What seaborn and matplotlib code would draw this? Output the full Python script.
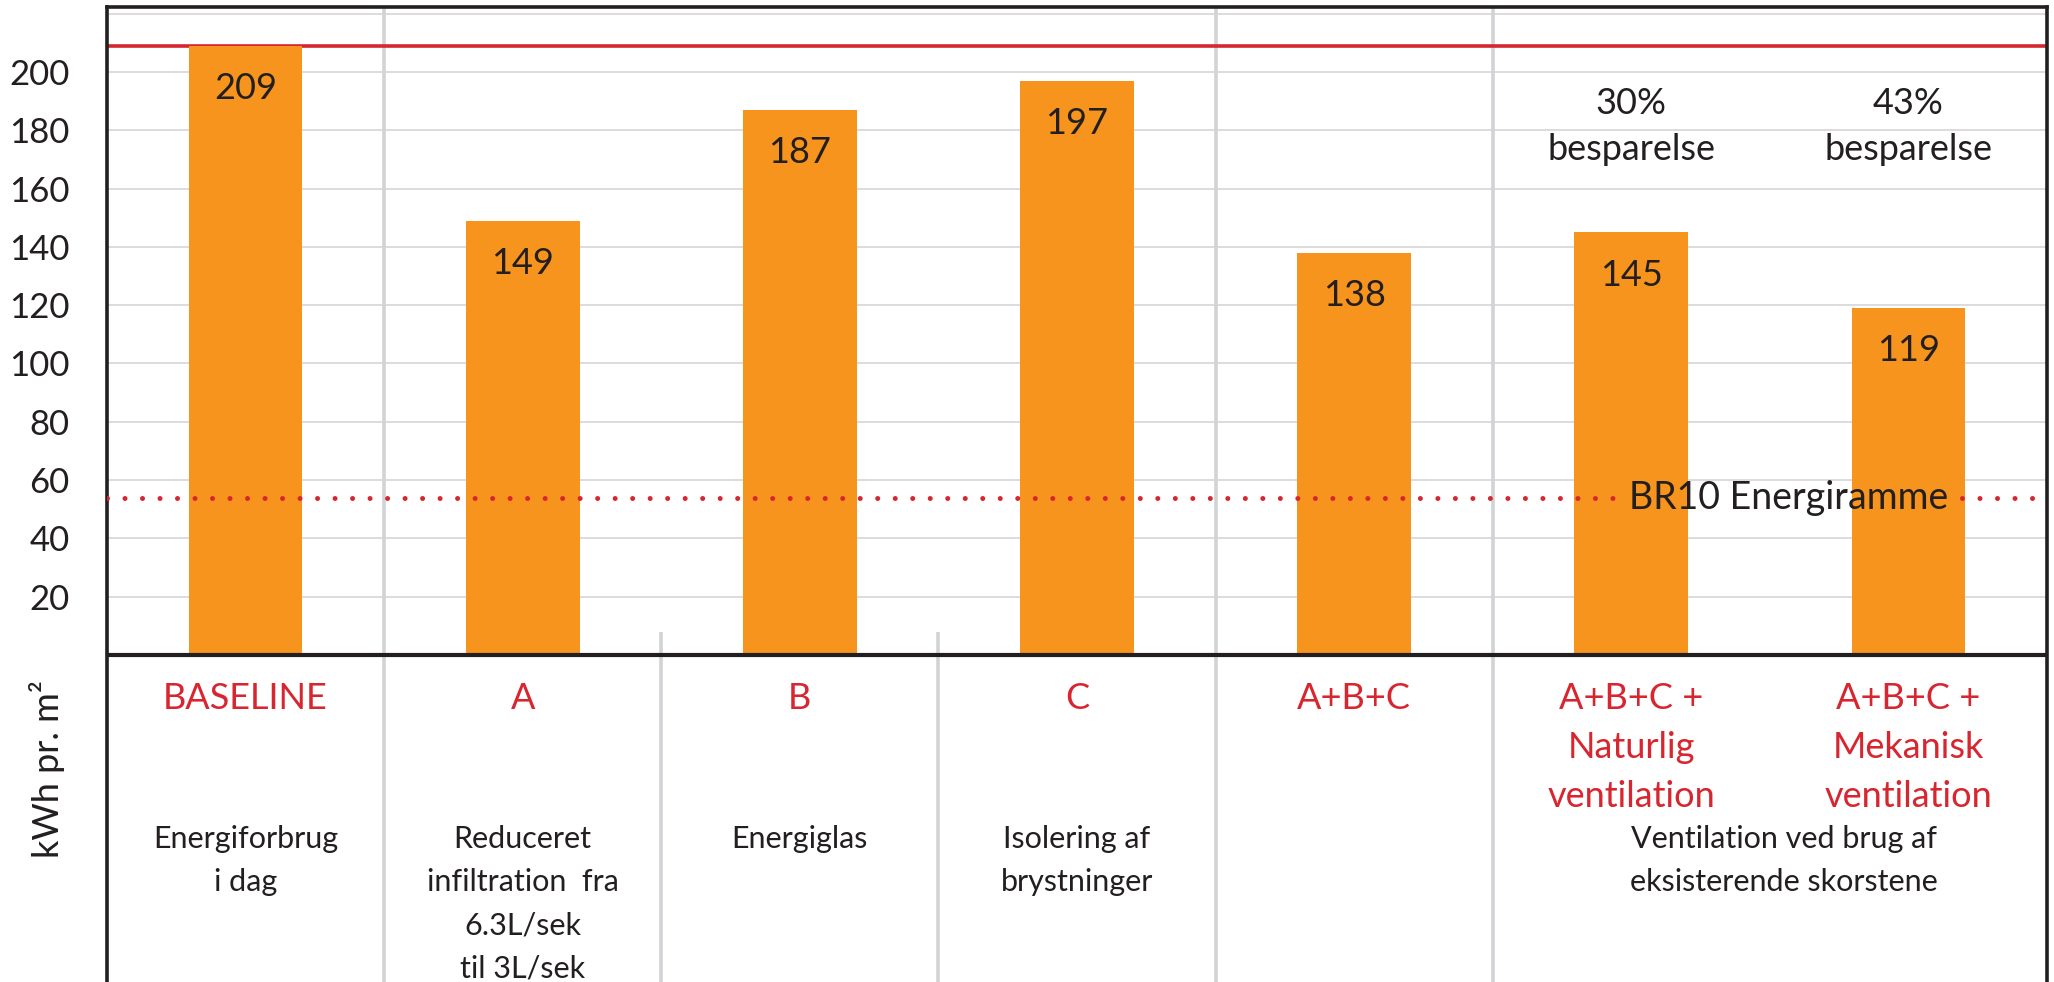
import matplotlib
matplotlib.use("Agg")
import matplotlib.pyplot as plt
import numpy as np
import pandas as pd
import seaborn as sns

# --- data -------------------------------------------------------------
codes = ["BASELINE", "A", "B", "C", "A+B+C",
         "A+B+C +\nNaturlig\nventilation",
         "A+B+C +\nMekanisk\nventilation"]
descriptions = ["Energiforbrug\ni dag",
                "Reduceret\ninfiltration  fra\n6.3L/sek\ntil 3L/sek",
                "Energiglas",
                "Isolering af\nbrystninger",
                "", "", ""]
shared_description = "Ventilation ved brug af\neksisterende skorstene"
values = [209, 149, 187, 197, 138, 145, 119]
savings = ["", "", "", "", "", "30%", "43%"]
savings_word = "besparelse"
baseline_level = 209
br10_level = 54
br10_label = "BR10 Energiramme"
y_ticks = [20, 40, 60, 80, 100, 120, 140, 160, 180, 200]
grid_levels = [20, 40, 60, 80, 100, 120, 140, 160, 180, 200, 220]
y_label = "kWh pr. m²"

# --- style --------------------------------------------------------------
ORANGE = "#F7941D"
RED = "#D7262F"
DARK = "#231F20"
GRID = "#D9D9D9"
DIVIDER = "#D1D3D4"

sns.set_style("white")
plt.rcParams["font.family"] = ["Lato", "DejaVu Sans"]

W, H = 2054, 982
fig = plt.figure(figsize=(W / 100, H / 100), dpi=100)
ax = fig.add_axes([107 / W, 0, 1940 / W, 975 / H])

df = pd.DataFrame({"code": codes, "value": values})
sns.barplot(data=df, x="code", y="value", color=ORANGE, saturation=1,
            width=0.41, linewidth=0, ax=ax, zorder=3)

n = len(codes)
YMIN, YMAX = -112.2, 222.3
ax.set_xlim(-0.5, n - 0.5)
ax.set_ylim(YMIN, YMAX)

# horizontal grid in the chart area
ax.hlines(grid_levels, -0.5, n - 0.5, colors=GRID, linewidth=1.3, zorder=1)

# column dividers: some span the whole height, some only the text table
for xd in [0.5, 3.5, 4.5]:
    ax.vlines(xd, YMIN, YMAX, colors=DIVIDER, linewidth=2.6, zorder=1.5)
for xd in [1.5, 2.5]:
    ax.vlines(xd, YMIN, 8, colors=DIVIDER, linewidth=2.6, zorder=1.5)

# baseline consumption reference
ax.axhline(baseline_level, color=RED, linewidth=2.6, zorder=2)

# zero line separating chart and table
ax.axhline(0, color=DARK, linewidth=3.0, zorder=4)

# value labels inside bars
for i, v in enumerate(values):
    ax.text(i, v - 18.3, f"{v}", ha="center", va="baseline",
            fontsize=26, color=DARK, zorder=5)

# savings annotations
for i, s in enumerate(savings):
    if s:
        ax.text(i, 195, f"{s}\n{savings_word}", ha="center", va="top",
                fontsize=26, color=DARK, linespacing=1.5, zorder=5)

# category codes and descriptions in the table below the axis
for i, (c, d) in enumerate(zip(codes, descriptions)):
    ax.text(i, -9.3, c, ha="center", va="top", fontsize=26, color=RED,
            linespacing=1.6, zorder=5)
    if d:
        ax.text(i, -58.5, d, ha="center", va="top", fontsize=22,
                color=DARK, linespacing=1.65, zorder=5)
ax.text(5.55, -58.5, shared_description, ha="center", va="top",
        fontsize=22, color=DARK, linespacing=1.65, zorder=5)

# BR10 frame: dotted line broken around its label
lbl = ax.text(5.566, br10_level - 3.9, br10_label, ha="center", va="baseline",
              fontsize=27, color=DARK, zorder=6)
fig.canvas.draw()
bb = lbl.get_window_extent().transformed(ax.transData.inverted())
gap = 0.05
dot_style = dict(color=RED, linewidth=3.6, linestyle=(0, (0.001, 3.5)),
                 dash_capstyle="round", zorder=6)
ax.plot([-0.5, bb.x0 - gap], [br10_level, br10_level], **dot_style)
ax.plot([bb.x1 + gap, n - 0.5], [br10_level, br10_level], **dot_style)

# axes frame and ticks
ax.set_xticks([])
ax.set_xlabel("")
ax.set_ylabel("")
ax.set_yticks(y_ticks)
ax.set_yticklabels([str(t) for t in y_ticks])
ax.tick_params(axis="y", length=0, pad=27, labelsize=25, labelcolor=DARK)
for side in ["left", "top", "right"]:
    ax.spines[side].set_visible(True)
    ax.spines[side].set_color(DARK)
    ax.spines[side].set_linewidth(2.6)
ax.spines["bottom"].set_visible(False)

fig.text(47 / W, 1 - 769 / H, y_label, rotation=90, ha="center", va="center",
         fontsize=26, color=DARK)

fig.savefig("out.png", dpi=100, facecolor="white")
